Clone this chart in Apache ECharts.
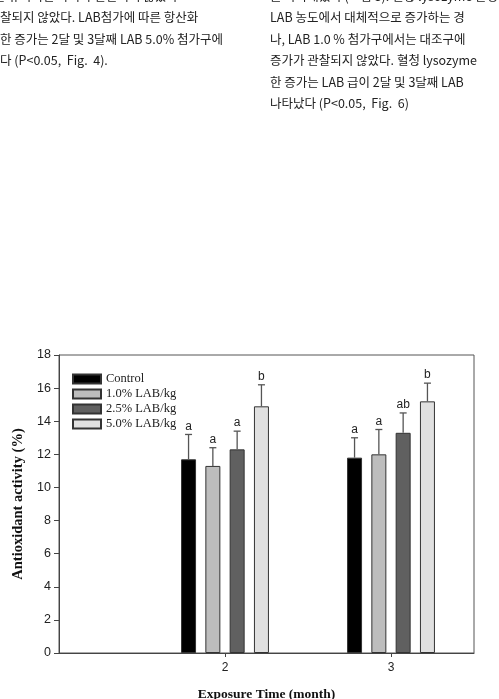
<!DOCTYPE html>
<html>
<head>
<meta charset="utf-8">
<script src="https://cdn.jsdelivr.net/npm/echarts@6/dist/echarts.min.js"></script>
<style>
html,body{margin:0;padding:0;background:#fff;}
#page{position:relative;width:499px;height:699px;overflow:hidden;}
#text{position:absolute;left:0;top:0;width:499px;height:120px;font-family:"Noto Sans CJK KR","Liberation Serif",serif;font-size:12.5px;line-height:16px;color:#222;}
#text div{position:absolute;white-space:nowrap;}
#chart{position:absolute;left:0;top:0;width:499px;height:699px;}
</style>
</head>
<body>
<div id="page">
<div id="chart"></div>
<div id="text">
  <div style="left:-6px;top:-12px;">는 유의적인 차이가 관찰되지 않았다</div>
  <div style="left:0px;top:9px;">찰되지 않았다. LAB첨가에 따른 항산화</div>
  <div style="left:0px;top:31px;">한 증가는 2달 및 3달째 LAB 5.0% 첨가구에</div>
  <div style="left:0px;top:52px;">다 (P&lt;0.05,&nbsp; Fig.&nbsp; 4).</div>
  <div style="left:270px;top:-12px;">를 나타내었다 (그림 5). 혈청 lysozyme 활성</div>
  <div style="left:270px;top:9px;">LAB 농도에서 대체적으로 증가하는 경</div>
  <div style="left:270px;top:31px;">나, LAB 1.0 % 첨가구에서는 대조구에</div>
  <div style="left:270px;top:52px;">증가가 관찰되지 않았다. 혈청 lysozyme</div>
  <div style="left:270px;top:74px;">한 증가는 LAB 급이 2달 및 3달째 LAB</div>
  <div style="left:270px;top:95px;">나타났다 (P&lt;0.05,&nbsp; Fig.&nbsp; 6)</div>
</div>
</div>
<script>
// ---- data ----
var months = [2, 3];
var seriesNames = ['Control', '1.0% LAB/kg', '2.5% LAB/kg', '5.0% LAB/kg'];
var controlVals = [11.7, 11.8];
var lab10Vals = [11.3, 12.0];
var lab25Vals = [12.3, 13.3];
var lab50Vals = [14.9, 15.2];
var controlErr = [1.5, 1.2];
var lab10Err = [1.1, 1.5];
var lab25Err = [1.1, 1.2];
var lab50Err = [1.3, 1.1];
var controlLetters = ['a', 'a'];
var lab10Letters = ['a', 'a'];
var lab25Letters = ['a', 'ab'];
var lab50Letters = ['b', 'b'];
var yTicks = [0, 2, 4, 6, 8, 10, 12, 14, 16, 18];

// ---- style ----
var colors = ['#000000', '#bdbdbd', '#606060', '#e0e0e0'];
var BAR_W = 15;
var GAP_PCT = 62;
var STEP = BAR_W * (1 + GAP_PCT / 100);

var allVals = [controlVals, lab10Vals, lab25Vals, lab50Vals];
var allErr = [controlErr, lab10Err, lab25Err, lab50Err];
var allLetters = [controlLetters, lab10Letters, lab25Letters, lab50Letters];

var chart = echarts.init(document.getElementById('chart'), null, {renderer: 'canvas'});

var series = [];
seriesNames.forEach(function (name, si) {
  series.push({
    name: name,
    type: 'bar',
    barWidth: BAR_W,
    barGap: GAP_PCT + '%',
    itemStyle: {color: colors[si], borderColor: '#333', borderWidth: 1},
    data: months.map(function (m, mi) { return [m, allVals[si][mi]]; }),
    z: 2
  });
});
seriesNames.forEach(function (name, si) {
  series.push({
    type: 'custom',
    silent: true,
    z: 3,
    data: months.map(function (m, mi) {
      return [m, allVals[si][mi], allVals[si][mi] + allErr[si][mi], mi];
    }),
    renderItem: function (params, api) {
      var mi = api.value(3);
      var off = (si - 1.5) * STEP;
      var p0 = api.coord([api.value(0), api.value(1)]);
      var p1 = api.coord([api.value(0), api.value(2)]);
      var x = p0[0] + off;
      var cap = 3.5;
      return {
        type: 'group',
        children: [
          {type: 'line', shape: {x1: x, y1: p0[1], x2: x, y2: p1[1]}, style: {stroke: '#555', lineWidth: 1.3}},
          {type: 'line', shape: {x1: x - cap, y1: p1[1], x2: x + cap, y2: p1[1]}, style: {stroke: '#555', lineWidth: 1.3}},
          {type: 'text', x: x, y: p1[1] - 2, style: {
            text: allLetters[si][mi], align: 'center', verticalAlign: 'bottom',
            font: '12px "Liberation Sans", Arial, sans-serif', fill: '#222'}}
        ]
      };
    }
  });
});

chart.setOption({
  animation: false,
  backgroundColor: '#fff',
  grid: {left: 59, right: 25, top: 355, bottom: 46, show: true, borderColor: '#555', borderWidth: 1, containLabel: false, outerBoundsMode: 'none'},
  legend: {
    orient: 'vertical',
    left: 72, top: 372,
    padding: 0,
    itemWidth: 28, itemHeight: 9, itemGap: 1,
    icon: 'rect',
    data: seriesNames,
    textStyle: {fontFamily: '"Liberation Serif", "Times New Roman", serif', fontSize: 12.5, lineHeight: 14, color: '#222'}
  },
  xAxis: {
    type: 'value',
    min: 1, max: 3.5, interval: 1,
    splitLine: {show: false},
    axisLine: {show: true, lineStyle: {color: '#444'}},
    axisTick: {show: true, length: 4, customValues: months, lineStyle: {color: '#444'}},
    axisLabel: {customValues: months, color: '#222', fontSize: 12, fontFamily: '"Liberation Sans", Arial, sans-serif', margin: 9},
    name: 'Exposure Time (month)',
    nameLocation: 'middle',
    nameGap: 35,
    nameTextStyle: {fontFamily: '"Liberation Serif", "Times New Roman", serif', fontWeight: 'bold', fontSize: 13.5, color: '#111'}
  },
  yAxis: {
    type: 'value',
    min: yTicks[0], max: yTicks[yTicks.length - 1], interval: 2,
    splitLine: {show: false},
    axisLine: {show: true, lineStyle: {color: '#444'}},
    axisTick: {show: true, inside: false, length: 5, lineStyle: {color: '#444'}},
    axisLabel: {color: '#222', fontSize: 12.5, fontFamily: '"Liberation Sans", Arial, sans-serif', margin: 8},
    name: 'Antioxidant activity (%)',
    nameLocation: 'middle',
    nameGap: 33,
    nameTextStyle: {fontFamily: '"Liberation Serif", "Times New Roman", serif', fontWeight: 'bold', fontSize: 14.5, color: '#111'}
  },
  series: series
});
</script>
</body>
</html>
